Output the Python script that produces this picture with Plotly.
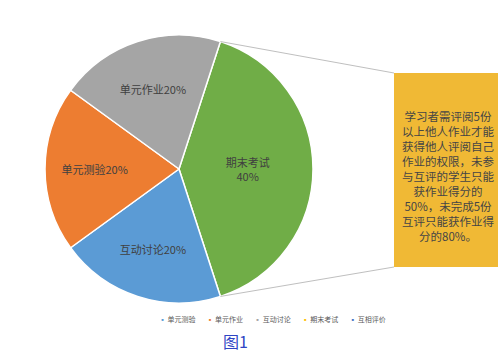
import math
import plotly.graph_objects as go

# ---- data ----
slice_labels = ["期末考试", "互动讨论", "单元测验", "单元作业"]
slice_values = [40, 20, 20, 20]
slice_colors = ["#70AD47", "#5B9BD5", "#ED7D31", "#A5A5A5"]
slice_text = ["期末考试<br>40%", "互动讨论20%", "单元测验20%", "单元作业20%"]

legend_labels = ["单元测验", "单元作业", "互动讨论", "期末考试", "互相评价"]
legend_colors = ["#5B9BD5", "#ED7D31", "#A5A5A5", "#FFC000", "#4472C4"]

box_lines = [
    "学习者需评阅5份",
    "以上他人作业才能",
    "获得他人评阅自己",
    "作业的权限，未参",
    "与互评的学生只能",
    "获作业得分的",
    "50%，未完成5份",
    "互评只能获作业得",
    "分的80%。",
]
caption = "图1"

W, H = 501, 356
FONT = "Noto Sans CJK SC, Noto Sans, sans-serif"

# pie geometry (pixels)
cx, cy, r = 179, 169, 134
rotation = 18


def px(x):
    return x / W


def py(y):
    return 1 - y / H


fig = go.Figure()
fig.add_trace(go.Pie(
    labels=slice_labels,
    values=slice_values,
    text=slice_text,
    textinfo="text",
    textposition="inside",
    insidetextorientation="horizontal",
    sort=False,
    direction="clockwise",
    rotation=rotation,
    marker=dict(colors=slice_colors, line=dict(color="white", width=1.5)),
    textfont=dict(family=FONT, size=11, color="#404040"),
    domain=dict(x=[px(cx - r), px(cx + r)], y=[py(cy + r), py(cy - r)]),
    showlegend=False,
    hoverinfo="label+percent",
))

# edge points of the first (期末考试) slice, computed from data
total = sum(slice_values)
a0 = math.radians(rotation)
a1 = math.radians(rotation + 360 * slice_values[0] / total)
p_top = (cx + r * math.sin(a0), cy - r * math.cos(a0))
p_bot = (cx + r * math.sin(a1), cy - r * math.cos(a1))

box_x0, box_x1, box_y0, box_y1 = 394, 498, 73, 267

shapes = [
    dict(type="rect", xref="paper", yref="paper",
         x0=px(box_x0), x1=px(box_x1), y0=py(box_y1), y1=py(box_y0),
         fillcolor="#F0B935", line=dict(width=0)),
    dict(type="line", xref="paper", yref="paper",
         x0=px(p_top[0]), y0=py(p_top[1]), x1=px(box_x0), y1=py(box_y0),
         line=dict(color="#BFBFBF", width=1)),
    dict(type="line", xref="paper", yref="paper",
         x0=px(p_bot[0]), y0=py(p_bot[1]), x1=px(box_x0), y1=py(box_y1),
         line=dict(color="#BFBFBF", width=1)),
]

legend_text = "&nbsp;&nbsp;&nbsp;&nbsp;&nbsp;&nbsp;&nbsp;".join(
    f"<span style='color:{c}'>▪</span> {t}" for t, c in zip(legend_labels, legend_colors)
)

annotations = [
    dict(xref="paper", yref="paper", x=px((box_x0 + box_x1) / 2 + 2), y=py((box_y0 + box_y1) / 2 + 6),
         text="<br>".join(box_lines), showarrow=False, align="center",
         font=dict(family=FONT, size=11.5, color="#454545"),
         xanchor="center", yanchor="middle"),
    dict(xref="paper", yref="paper", x=px(272), y=py(319), text=legend_text,
         showarrow=False, font=dict(family=FONT, size=7, color="#595959"),
         xanchor="center", yanchor="middle"),
    dict(xref="paper", yref="paper", x=px(235), y=py(341), text=caption,
         showarrow=False, font=dict(family=FONT, size=16, color="#2F45C4"),
         xanchor="center", yanchor="middle"),
]

fig.update_layout(
    width=W, height=H,
    margin=dict(l=0, r=0, t=0, b=0),
    paper_bgcolor="white", plot_bgcolor="white",
    shapes=shapes, annotations=annotations,
    font=dict(family=FONT),
)

fig.write_html("out.html", config={"displayModeBar": False},
               post_script="document.body.style.margin='0';")
